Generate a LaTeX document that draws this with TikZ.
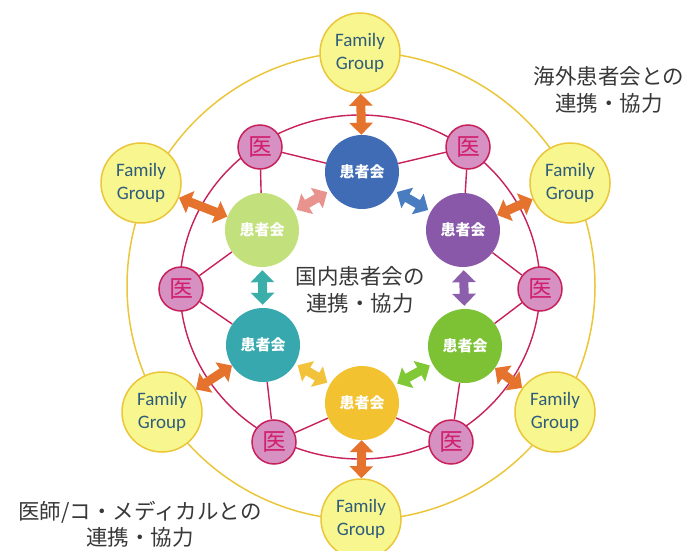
\documentclass[tikz,border=0pt]{standalone}
\usepackage{fontspec}
\setmainfont{Carlito}
\newfontfamily\jp{Noto Sans CJK JP}
\usetikzlibrary{arrows.meta,backgrounds}
\definecolor{fgfill}{HTML}{F8F68E}
\definecolor{fgline}{HTML}{EBC63A}
\definecolor{fgtext}{HTML}{2E5C7C}
\definecolor{redln}{HTML}{C8205A}
\definecolor{ifill}{HTML}{D690C2}
\definecolor{itext}{HTML}{D0206E}
\definecolor{orangeA}{HTML}{E5732E}
\definecolor{kblue}{HTML}{3F6CB5}
\definecolor{kltgreen}{HTML}{C2E07C}
\definecolor{kpurple}{HTML}{8A58A8}
\definecolor{kteal}{HTML}{36A8AE}
\definecolor{kgreen}{HTML}{7CC234}
\definecolor{kyellow}{HTML}{F2C230}
\definecolor{apink}{HTML}{E9938F}
\definecolor{ablue}{HTML}{4A7CC0}
\definecolor{ateal}{HTML}{3AAFA9}
\definecolor{apurple}{HTML}{8B5FAB}
\definecolor{ayellow}{HTML}{F2C23A}
\definecolor{agreen}{HTML}{80C836}
\definecolor{darktext}{HTML}{383838}
\begin{document}
\begin{tikzpicture}[x=1pt,y=-1pt,
  fgnode/.style={circle,draw=fgline,fill=fgfill,line width=1.5pt,minimum size=80pt,inner sep=0pt,
    align=center,text=fgtext,font=\fontsize{19}{23}\selectfont},
  kai/.style={circle,fill=#1,minimum size=74pt,inner sep=0pt,text=white,
    font=\jp\bfseries\fontsize{15}{15}\selectfont},
  inode/.style={circle,draw=redln,fill=ifill,line width=1.5pt,minimum size=44pt,inner sep=0pt,
    text=itext,font=\jp\fontsize{24}{24}\selectfont},
  redline/.style={draw=redln,line width=1.4pt},
  yline/.style={draw=fgline,line width=1.5pt},
  fatarrow/.style={line width=9pt,draw=#1,
    {Triangle[width=23pt,length=12pt]}-{Triangle[width=23pt,length=12pt]}},
  innerarrow/.style={fatarrow=#1,shorten <=3pt,shorten >=3pt},
  label/.style={align=center,text=darktext,font=\jp\fontsize{21.5}{26.5}\selectfont}
]
\useasboundingbox (0,0) rectangle (691,551);
% Family groups
\node[fgnode] (fgT)  at (360,53)  {Family\\Group};
\node[fgnode] (fgUR) at (570,183) {Family\\Group};
\node[fgnode] (fgLR) at (555,412) {Family\\Group};
\node[fgnode] (fgB)  at (361,519) {Family\\Group};
\node[fgnode] (fgLL) at (162,412) {Family\\Group};
\node[fgnode] (fgUL) at (141,183) {Family\\Group};
% patient associations
\node[kai=kblue]    (kT)  at (362,172) {患者会};
\node[kai=kpurple]  (kUR) at (463,230) {患者会};
\node[kai=kgreen]   (kLR) at (465,346) {患者会};
\node[kai=kyellow]  (kB)  at (362,403) {患者会};
\node[kai=kteal]    (kLL) at (263,345) {患者会};
\node[kai=kltgreen] (kUL) at (262,230) {患者会};
% doctors
\node[inode] (iUL) at (260,147) {医};
\node[inode] (iUR) at (468,147) {医};
\node[inode] (iR)  at (540,289) {医};
\node[inode] (iLR) at (451,442) {医};
\node[inode] (iLL) at (274,442) {医};
\node[inode] (iL)  at (181,289) {医};
% background rings and spokes
\begin{scope}[on background layer]
  \coordinate (ctr) at (361,286);
  \draw[yline] (ctr) circle[radius=234pt];
  \coordinate (rctr) at (360,287);
  \draw[redline] (rctr) ellipse[x radius=180pt,y radius=172pt];
  \draw[redline] (iUL) -- (kT);
  \draw[redline] (iUL) -- (kUL);
  \draw[redline] (iUR) -- (kT);
  \draw[redline] (iUR) -- (kUR);
  \draw[redline] (iR) -- (kUR);
  \draw[redline] (iR) -- (kLR);
  \draw[redline] (iLR) -- (kLR);
  \draw[redline] (iLR) -- (kB);
  \draw[redline] (iLL) -- (kB);
  \draw[redline] (iLL) -- (kLL);
  \draw[redline] (iL) -- (kLL);
  \draw[redline] (iL) -- (kUL);
\end{scope}
% orange arrows
\draw[fatarrow=orangeA] (fgT) -- (kT);
\draw[fatarrow=orangeA] (fgUR) -- (kUR);
\draw[fatarrow=orangeA] (fgLR) -- (kLR);
\draw[fatarrow=orangeA] (fgB) -- (kB);
\draw[fatarrow=orangeA] (fgLL) -- (kLL);
\draw[fatarrow=orangeA] (fgUL) -- (kUL);
% inner arrows
\draw[innerarrow=apink]   (kUL) -- (kT);
\draw[innerarrow=ablue]   (kT) -- (kUR);
\draw[innerarrow=apurple] (kUR) -- (kLR);
\draw[innerarrow=agreen]  (kLR) -- (kB);
\draw[innerarrow=ayellow] (kB) -- (kLL);
\draw[innerarrow=ateal]   (kLL) -- (kUL);
% labels
\node[label] (cen) at (360,290) {国内患者会の\\連携・協力};
\node[label] (tr)  at (609,90)  {海外患者会との\\連携・協力};
\node[label] (bl)  at (140,524) {医師/コ・メディカルとの\\連携・協力};
\end{tikzpicture}
\end{document}
